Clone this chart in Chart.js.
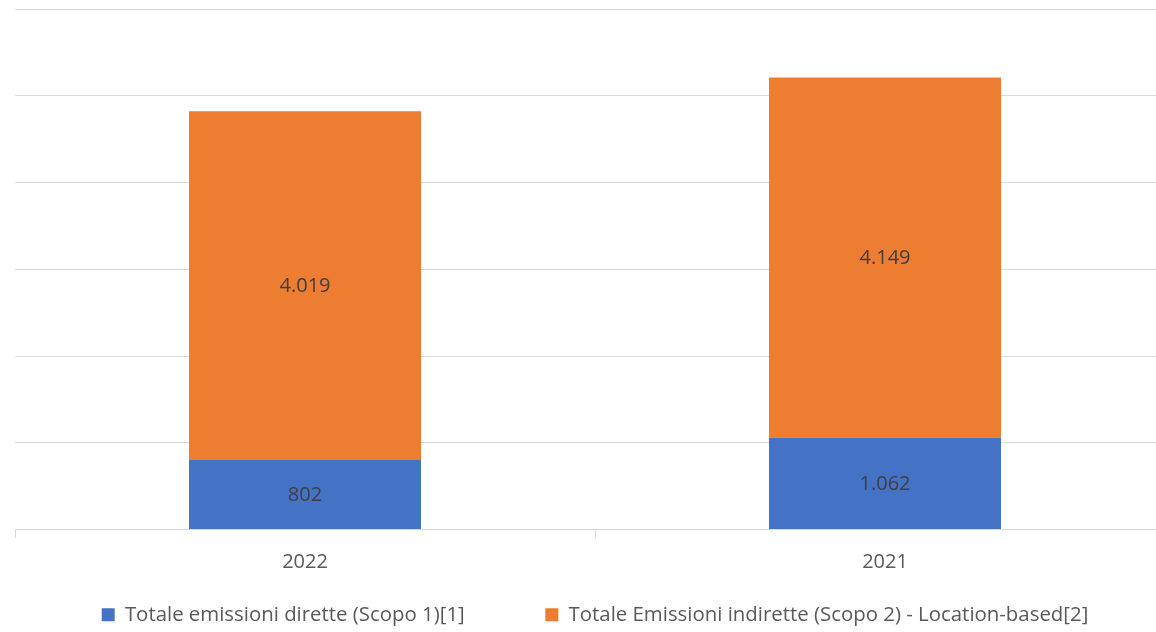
<!DOCTYPE html>
<html>
<head>
<meta charset="utf-8">
<script src="https://cdn.jsdelivr.net/npm/chart.js@4"></script>
<style>
  html, body { margin: 0; padding: 0; background: #fff; overflow: hidden; }
  #wrap { width: 1175px; height: 632px; }
</style>
</head>
<body>
<div id="wrap"><canvas id="emChart"></canvas></div>
<script>
const years = ['2022', '2021'];
const scopo1 = [802, 1062];
const scopo2 = [4019, 4149];
const seriesNames = [
    'Totale emissioni dirette (Scopo 1)[1]',
    'Totale Emissioni indirette (Scopo 2) - Location-based[2]'
];

const fontFam = "'Open Sans', 'Noto Sans', sans-serif";

// thousand separator as in the italian original (4.019)
function fmt(v) {
    return String(v).replace(/\B(?=(\d{3})+(?!\d))/g, '.');
}

const barLabels = {
    id: 'barLabels',
    afterDatasetsDraw(chart) {
        const ctx = chart.ctx;
        ctx.save();
        ctx.font = '20px ' + fontFam;
        ctx.fillStyle = '#404040';
        ctx.textAlign = 'center';
        ctx.textBaseline = 'middle';
        chart.data.datasets.forEach((ds, i) => {
            chart.getDatasetMeta(i).data.forEach((bar, j) => {
                const p = bar.getCenterPoint();
                ctx.fillText(fmt(ds.data[j]), p.x, p.y + 1);
            });
        });
        ctx.restore();
    }
};

new Chart(document.getElementById('emChart'), {
    type: 'bar',
    data: {
        labels: years,
        datasets: [{
            label: seriesNames[0],
            data: scopo1,
            backgroundColor: '#4472C4',
            barPercentage: 0.4,
            categoryPercentage: 1
        }, {
            label: seriesNames[1],
            data: scopo2,
            backgroundColor: '#ED7D31',
            barPercentage: 0.4,
            categoryPercentage: 1
        }]
    },
    options: {
        responsive: true,
        maintainAspectRatio: false,
        animation: false,
        layout: { padding: { left: 15, top: 9, right: 0, bottom: -3 } },
        scales: {
            x: {
                stacked: true,
                grid: { offset: true, drawOnChartArea: false, color: '#d9d9d9', tickLength: 8 },
                border: { color: '#d9d9d9' },
                ticks: { color: '#595959', font: { family: fontFam, size: 20 }, padding: 13 }
            },
            y: {
                stacked: true,
                min: 0,
                max: 6000,
                ticks: { display: false, stepSize: 1000 },
                grid: { color: '#d9d9d9', drawTicks: false },
                border: { display: false }
            }
        },
        plugins: {
            legend: {
                position: 'bottom',
                labels: {
                    color: '#595959',
                    font: { family: fontFam, size: 20.4 },
                    boxWidth: 13,
                    boxHeight: 13,
                    padding: 17,
                    useBorderRadius: false,
                    generateLabels(chart) {
                        const items = Chart.defaults.plugins.legend.labels.generateLabels(chart);
                        // wider gap between the two entries, like the original
                        items[0].text += '            ';
                        return items;
                    }
                }
            },
            tooltip: { enabled: false }
        }
    },
    plugins: [barLabels]
});
</script>
</body>
</html>
